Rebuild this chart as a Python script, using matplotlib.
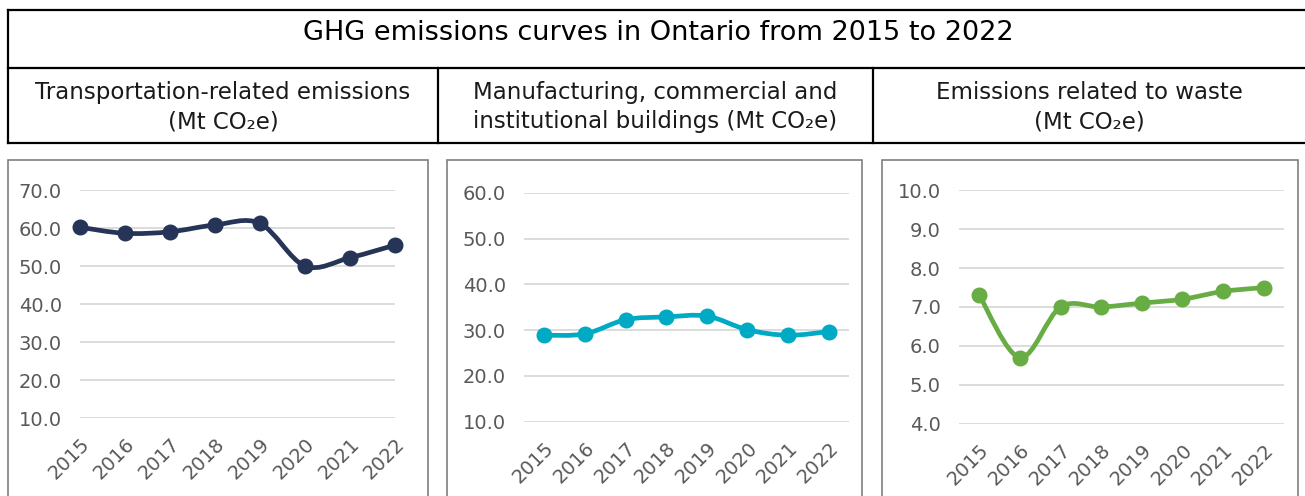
import numpy as np
import matplotlib
matplotlib.use("Agg")
import matplotlib.pyplot as plt
from matplotlib.path import Path
from matplotlib.patches import PathPatch, Rectangle
from matplotlib.lines import Line2D

# ==========================================
# DATA
# ==========================================

years = ["2015", "2016", "2017", "2018", "2019", "2020", "2021", "2022"]

transport = [60.2, 58.6, 59.0, 60.8, 61.2, 50.0, 52.2, 55.5]
buildings = [28.9, 29.2, 32.3, 32.9, 33.1, 30.1, 28.9, 29.7]
waste = [7.3, 5.7, 7.0, 7.0, 7.1, 7.2, 7.4, 7.5]

title = "GHG emissions curves in Ontario from 2015 to 2022"
panel_titles = [
    "Transportation-related emissions\n(Mt CO\u2082e)",
    "Manufacturing, commercial and\ninstitutional buildings (Mt CO\u2082e)",
    "Emissions related to waste\n(Mt CO\u2082e)",
]

# ==========================================
# STYLE
# ==========================================

plt.rcParams['font.family'] = ['DejaVu Sans']

W, H = 1305, 496
fig = plt.figure(figsize=(W / 100, H / 100), dpi=100)


def fx(px):
    return px / W


def fy(py):
    return 1 - py / H


def smooth_path(xs, ys):
    # bezier smoothing like excel "smoothed line"
    pts = np.column_stack([xs, ys]).astype(float)
    n = len(pts)
    verts = [pts[0]]
    codes = [Path.MOVETO]
    for i in range(n - 1):
        p0 = pts[max(i - 1, 0)]
        p1 = pts[i]
        p2 = pts[i + 1]
        p3 = pts[min(i + 2, n - 1)]
        c1 = p1 + (p2 - p0) / 6.0
        c2 = p2 - (p3 - p1) / 6.0
        verts += [c1, c2, p2]
        codes += [Path.CURVE4] * 3
    return Path(verts, codes)


# ==========================================
# HEADER TABLE
# ==========================================

hl = dict(color="black", lw=1.6, transform=fig.transFigure)
for yy in [10, 68, 143]:
    fig.add_artist(Line2D([fx(8), fx(1305)], [fy(yy), fy(yy)], **hl))
fig.add_artist(Line2D([fx(8), fx(8)], [fy(10), fy(143)], **hl))
for xx in [438, 873]:
    fig.add_artist(Line2D([fx(xx), fx(xx)], [fy(68), fy(143)], **hl))

fig.text(fx(658), fy(33), title, ha="center", va="center",
         fontsize=19.5, color="black")

col_centers = [223, 655, 1089]
for cx, t in zip(col_centers, panel_titles):
    fig.text(fx(cx), fy(107), t, ha="center", va="center",
             fontsize=16.5, color="#1a1a1a", linespacing=1.35)

# ==========================================
# CHART PANELS
# ==========================================

panels = [
    dict(data=transport, color="#263557", ylim=(10, 70), step=10,
         box=(8, 428), area=(80, 395, 190, 418), xlim=(0, 7)),
    dict(data=buildings, color="#00AAC4", ylim=(10, 60), step=10,
         box=(447, 862), area=(524, 849, 193, 421.7), xlim=(-0.5, 7.5)),
    dict(data=waste, color="#68AC44", ylim=(4, 10), step=1,
         box=(882, 1298), area=(959, 1284, 190.3, 423.7), xlim=(-0.5, 7.5)),
]

x = np.arange(len(years))

for p in panels:
    b0, b1 = p["box"]
    fig.add_artist(Rectangle((fx(b0), fy(520)), fx(b1 - b0), fy(160) - fy(520),
                             transform=fig.transFigure, facecolor="none",
                             edgecolor="#7f7f7f", lw=1.2))

    l, r, t, bt = p["area"]
    ax = fig.add_axes([fx(l), fy(bt), fx(r - l), fy(t) - fy(bt)])

    ax.add_patch(PathPatch(smooth_path(x, p["data"]), facecolor="none",
                           edgecolor=p["color"], lw=3.4, capstyle="round",
                           joinstyle="round", zorder=3))
    ax.plot(x, p["data"], "o", color=p["color"], ms=10.5, zorder=4,
            clip_on=False)

    lo, hi = p["ylim"]
    ax.set_ylim(lo, hi)
    ax.set_xlim(*p["xlim"])
    ax.set_yticks(np.arange(lo, hi + 0.01, p["step"]))
    ax.set_yticklabels([f"{v:.1f}" for v in np.arange(lo, hi + 0.01, p["step"])])
    ax.set_xticks(x)
    ax.set_xticklabels(years, rotation=45, ha="right", rotation_mode="anchor")

    ax.grid(axis="y", color="#d9d9d9", lw=1.3)
    ax.set_axisbelow(True)
    for s in ax.spines.values():
        s.set_visible(False)
    ax.tick_params(axis="both", length=0, labelsize=14, colors="#595959")
    ax.tick_params(axis="y", pad=13)
    ax.tick_params(axis="x", pad=12)
    ax.patch.set_alpha(0)

fig.savefig("out.png", dpi=100)
